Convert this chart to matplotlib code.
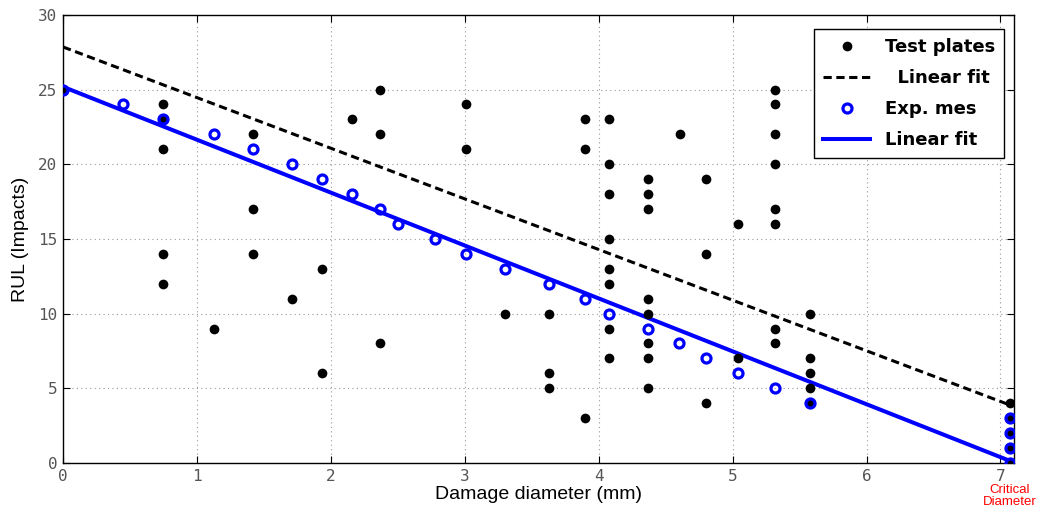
import numpy as np
import matplotlib
matplotlib.use('Agg')
import matplotlib.pyplot as plt

# test plates: damage diameter (mm) vs remaining useful life (impacts)
plates_d = [0.0,
            0.75, 0.75, 0.75, 0.75, 0.75,
            1.13,
            1.42, 1.42, 1.42,
            1.71,
            1.93, 1.93,
            2.16,
            2.37, 2.37, 2.37,
            3.01, 3.01,
            3.30,
            3.63, 3.63, 3.63,
            3.90, 3.90, 3.90,
            4.08, 4.08, 4.08, 4.08, 4.08, 4.08, 4.08, 4.08,
            4.37, 4.37, 4.37, 4.37, 4.37, 4.37, 4.37, 4.37,
            4.61,
            4.80, 4.80, 4.80,
            5.04, 5.04,
            5.32, 5.32, 5.32, 5.32, 5.32, 5.32, 5.32, 5.32,
            5.58, 5.58, 5.58, 5.58, 5.58,
            7.07, 7.07, 7.07, 7.07, 7.07]
plates_rul = [25,
              24, 23, 21, 14, 12,
              9,
              22, 17, 14,
              11,
              13, 6,
              23,
              25, 22, 8,
              24, 21,
              10,
              10, 6, 5,
              23, 21, 3,
              23, 20, 18, 15, 13, 12, 9, 7,
              19, 18, 17, 11, 10, 8, 7, 5,
              22,
              19, 14, 4,
              16, 7,
              25, 24, 22, 20, 17, 16, 9, 8,
              10, 7, 6, 5, 4,
              4, 3, 2, 1, 0]

# experimental measurements
exp_d = [0.0, 0.45, 0.75, 1.13, 1.42, 1.71, 1.93, 2.16, 2.37, 2.50, 2.78,
         3.01, 3.30, 3.63, 3.90, 4.08, 4.37, 4.60, 4.80, 5.04, 5.32, 5.58,
         7.07, 7.07, 7.07, 7.07]
exp_rul = [25, 24, 23, 22, 21, 20, 19, 18, 17, 16, 15,
           14, 13, 12, 11, 10, 9, 8, 7, 6, 5, 4,
           3, 2, 1, 0]

critical_d = 7.07

# linear fit of the plates as shown in the figure (slope, intercept)
p_plates = [-3.39, 27.85]
# linear fit of the experimental measurements
p_exp = np.polyfit(exp_d, exp_rul, 1)
x_fit = np.array([0.0, critical_d])

fig = plt.figure(figsize=(10.42, 5.12), dpi=100)
ax = fig.add_axes([0.0605, 0.0957, 0.9125, 0.8753])

ax.plot(plates_d, plates_rul, 'o', color='black', ms=7, mew=0,
        label='Test plates', zorder=3)
ax.plot(x_fit, np.polyval(p_plates, x_fit), color='black', lw=2.2,
        dashes=(2.7, 1.5), label='  Linear fit', zorder=2)
ax.plot(exp_d, exp_rul, 'o', mfc='none', mec='#0000ff', ms=6.5, mew=2.3,
        label='Exp. mes', zorder=4)
ax.plot(x_fit, np.polyval(p_exp, x_fit), color='#0000ff', lw=2.9,
        label='Linear fit', zorder=2)

ax.set_xlim(0, 7.1)
ax.set_ylim(0, 30)
ax.set_xticks(range(0, 8))
ax.set_yticks(range(0, 31, 5))
ax.grid(True, color='0.6', linestyle=(0, (1, 3)), lw=0.8)
ax.tick_params(direction='in', length=5, top=True, right=True,
               labelsize=11.5, labelcolor='#555555', pad=4)
for lab in ax.get_xticklabels() + ax.get_yticklabels():
    lab.set_family('DejaVu Sans Mono')
for sp in ax.spines.values():
    sp.set_linewidth(1.0)

ax.set_xlabel('Damage diameter (mm)', family='Liberation Sans', fontsize=14,
              labelpad=2)
ax.set_ylabel('RUL (Impacts)', family='Liberation Sans', fontsize=14,
              labelpad=7)

ax.text(critical_d, -1.4, 'Critical\nDiameter', color='red', fontsize=9.5,
        family='Liberation Sans', ha='center', va='top', linespacing=1.0)

leg = ax.legend(loc='upper right', bbox_to_anchor=(0.9895, 0.968),
                borderaxespad=0, fancybox=False, edgecolor='black',
                framealpha=1, handlelength=2.6, labelspacing=0.72,
                borderpad=0.5,
                prop={'family': 'DejaVu Sans', 'weight': 'bold', 'size': 13})
leg.get_frame().set_linewidth(1.0)

fig.savefig('out.png', dpi=100)
